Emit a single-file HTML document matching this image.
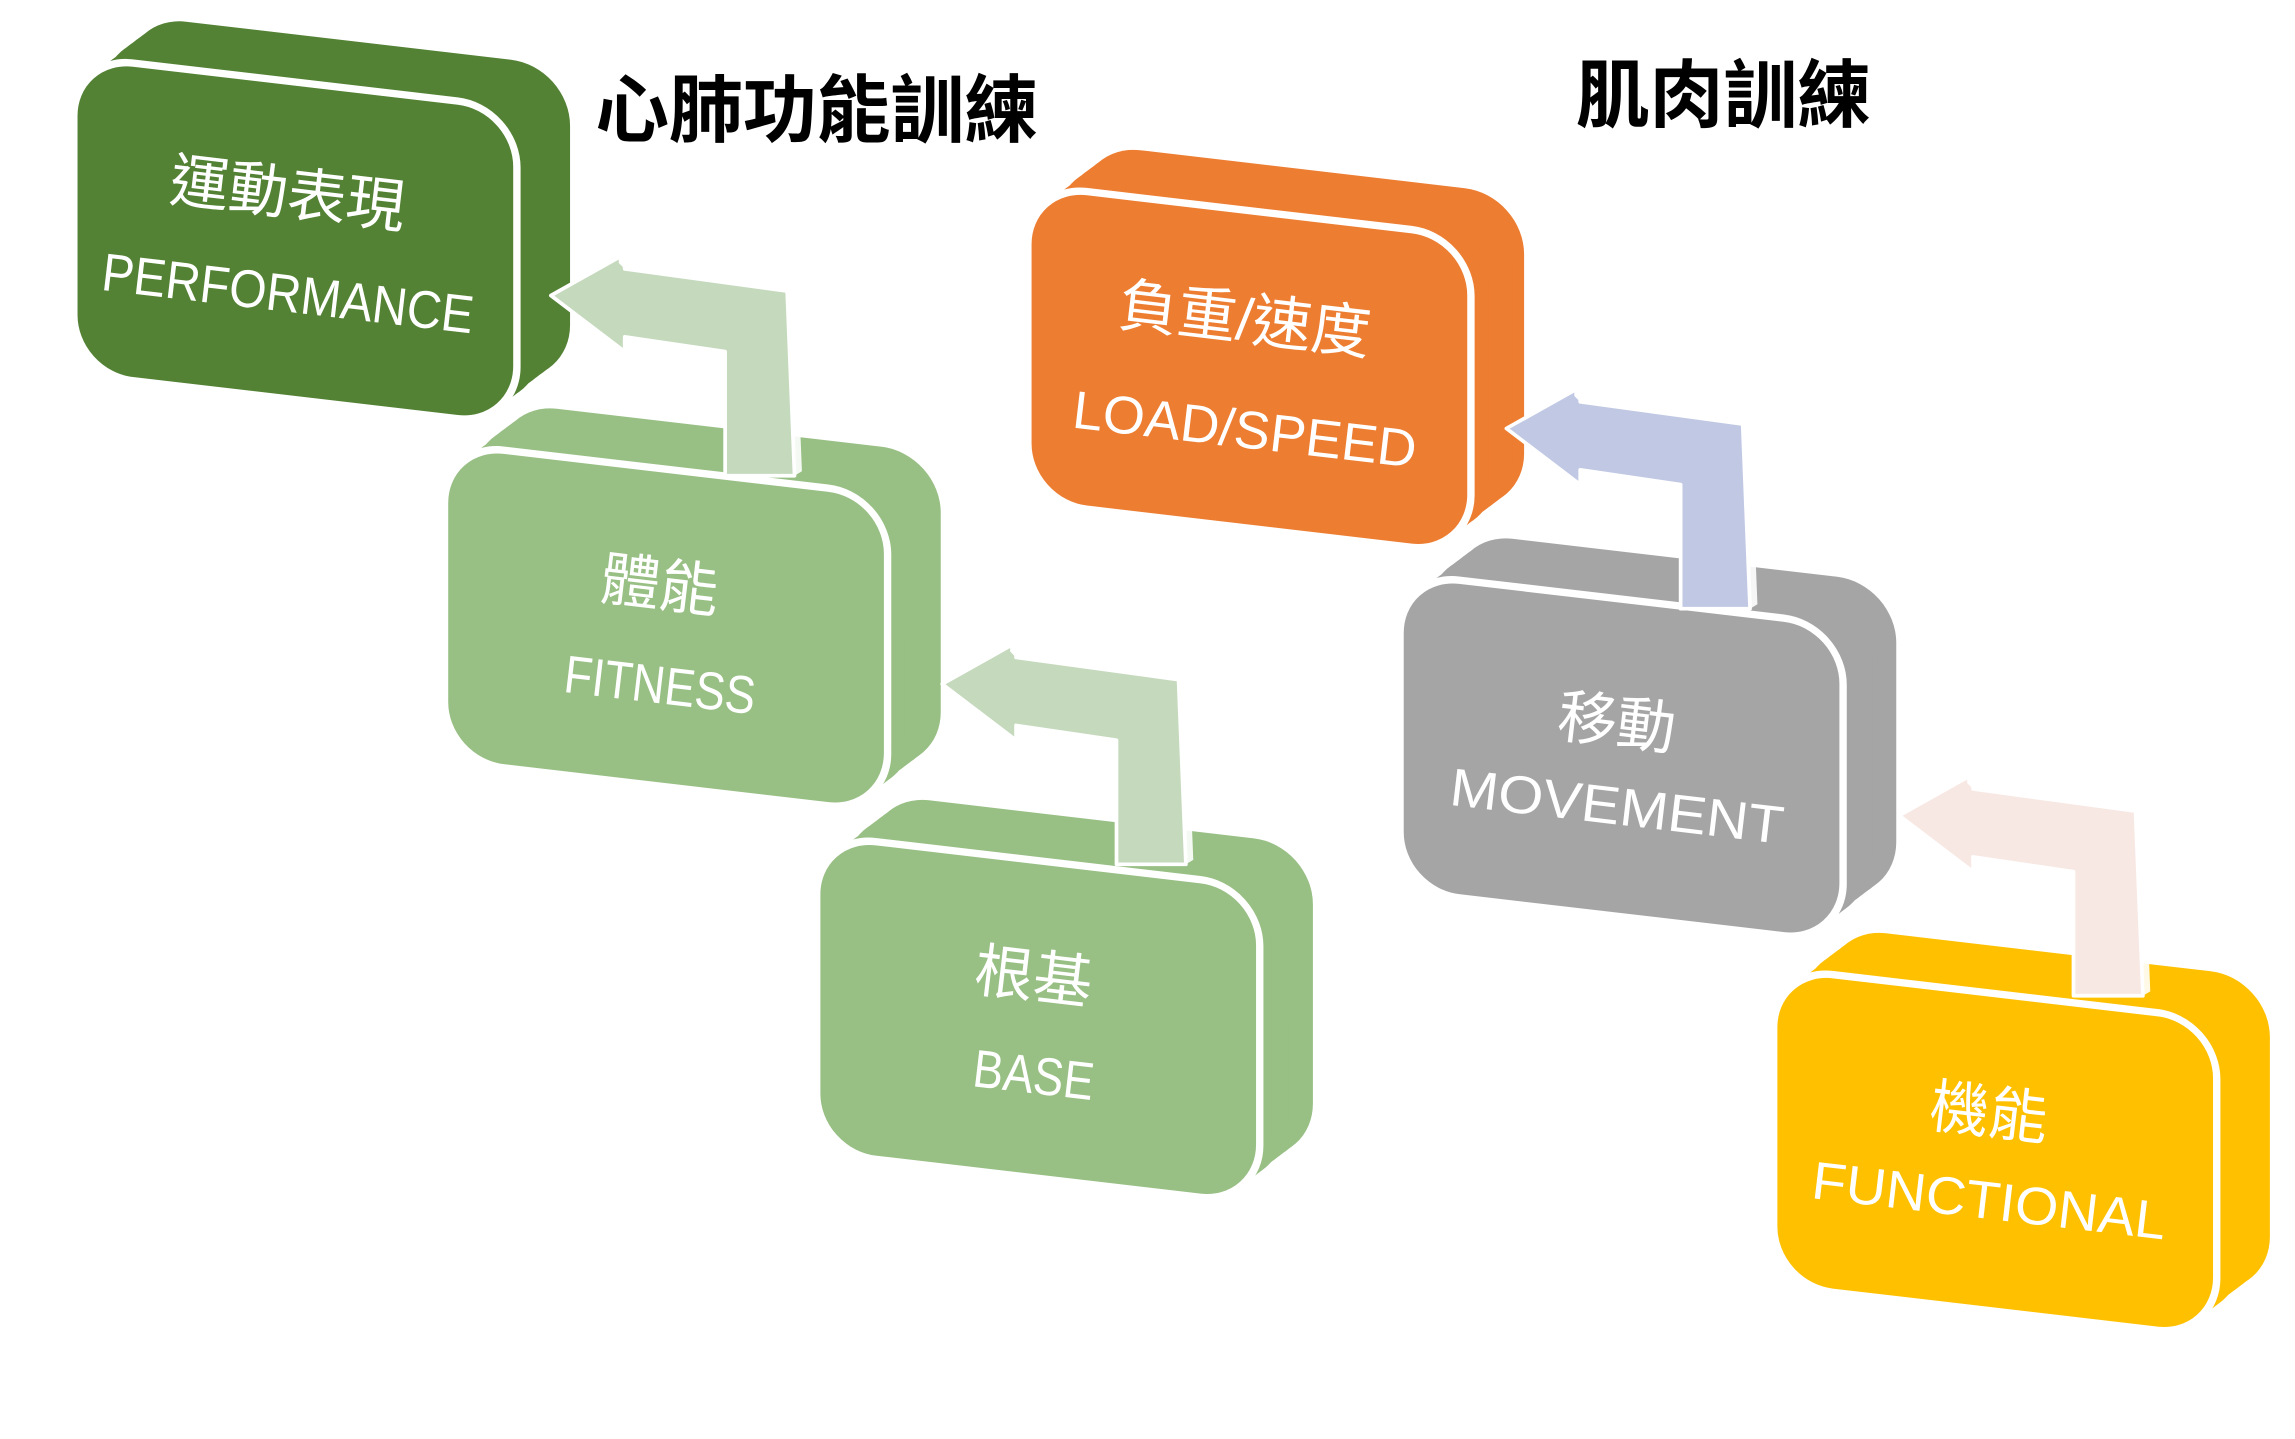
<!DOCTYPE html>
<html><head><meta charset="utf-8"><style>
html,body{margin:0;padding:0;background:#fff;}
svg{display:block;}
text{font-family:"Liberation Sans","Noto Sans CJK TC",sans-serif;}
</style></head><body>
<svg width="2295" height="1439" viewBox="0 0 1554 974" preserveAspectRatio="none" xmlns="http://www.w3.org/2000/svg">
<defs>
<g id="b"><rect width="300" height="215" rx="40" transform="matrix(1,0.117,0,1,0,0)"/></g>
<g id="ext">
  <use href="#b" x="36" y="-28"/><use href="#b" x="32" y="-25"/><use href="#b" x="28" y="-22"/>
  <use href="#b" x="24" y="-19"/><use href="#b" x="20" y="-16"/><use href="#b" x="16" y="-12"/>
  <use href="#b" x="12" y="-9"/><use href="#b" x="8" y="-6"/><use href="#b" x="4" y="-3"/>
</g>
<g id="front"><rect width="300" height="215" rx="40" transform="matrix(1,0.117,0,1,0,0)" stroke="#fff" stroke-width="5"/></g>
<g id="arrow">
  <polygon points="0,28 50,0 50,10 160,25 165,150 118,150 118,66 50,56 50,66" stroke="#fff" stroke-width="2.5" stroke-linejoin="round"/>
  <polygon points="50,0 46,-4 46,6 50,10" fill="#fff"/>
  <polygon points="160,25 165,22 170,147 165,150" fill="#fff" opacity="0.9"/>
</g>
</defs>

<text x="553" y="92" font-size="50" font-weight="bold" text-anchor="middle" fill="#000">心肺功能訓練</text>
<text x="1167" y="82" font-size="50" font-weight="bold" text-anchor="middle" fill="#000">肌肉訓練</text>

<g transform="translate(50,38)" fill="#548235"><use href="#ext"/><use href="#front"/></g>
<g transform="translate(301,300)" fill="#98bf84"><use href="#ext"/><use href="#front"/></g>
<g transform="translate(553,565)" fill="#98bf84"><use href="#ext"/><use href="#front"/></g>
<g transform="translate(696,125)" fill="#ed7d31"><use href="#ext"/><use href="#front"/></g>
<g transform="translate(948,388)" fill="#a5a5a5"><use href="#ext"/><use href="#front"/></g>
<g transform="translate(1201,655)" fill="#ffc000"><use href="#ext"/><use href="#front"/></g>

<g transform="translate(373,172)" fill="#c5d9bd"><use href="#arrow"/></g>
<g transform="translate(638,435)" fill="#c5d9bd"><use href="#arrow"/></g>
<g transform="translate(1020,262)" fill="#c0c8e3"><use href="#arrow"/></g>
<g transform="translate(1286,524)" fill="#f8e8e3"><use href="#arrow"/></g>

<g fill="#fff" text-anchor="middle">
<text x="195" y="145" font-size="40" transform="rotate(6.7 195 130)">運動表現</text>
<text x="195" y="211" font-size="36" transform="rotate(6.7 195 198)" textLength="253" lengthAdjust="spacingAndGlyphs">PERFORMANCE</text>
<text x="447" y="410" font-size="40" transform="rotate(6.7 447 395)">體能</text>
<text x="447" y="476" font-size="36" transform="rotate(6.7 447 463)" textLength="130" lengthAdjust="spacingAndGlyphs">FITNESS</text>
<text x="700" y="675" font-size="40" transform="rotate(6.7 700 660)">根基</text>
<text x="700" y="740" font-size="36" transform="rotate(6.7 700 727)" textLength="82" lengthAdjust="spacingAndGlyphs">BASE</text>
<text x="843" y="230" font-size="40" transform="rotate(6.7 843 215)">負重/速度</text>
<text x="843" y="303" font-size="36" transform="rotate(6.7 843 290)" textLength="234" lengthAdjust="spacingAndGlyphs">LOAD/SPEED</text>
<text x="1095" y="503" font-size="40" transform="rotate(6.7 1095 488)">移動</text>
<text x="1095" y="558" font-size="36" transform="rotate(6.7 1095 545)" textLength="227" lengthAdjust="spacingAndGlyphs">MOVEMENT</text>
<text x="1347" y="767" font-size="40" transform="rotate(6.7 1347 752)">機能</text>
<text x="1347" y="825" font-size="36" transform="rotate(6.7 1347 812)" textLength="241" lengthAdjust="spacingAndGlyphs">FUNCTIONAL</text>
</g>
</svg>
</body></html>
